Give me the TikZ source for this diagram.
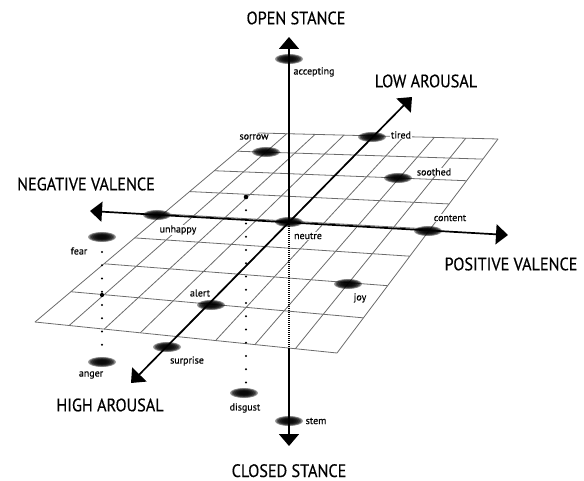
\documentclass[tikz,border=0pt]{standalone}
\usepackage{fontspec}
\setmainfont{PT Sans}
\newfontfamily\axisfont[FakeStretch=0.9,FakeBold=0.4]{PT Sans}
\newfontfamily\labelfont[FakeBold=0.3]{PT Sans}
\usetikzlibrary{arrows.meta}

% point (u,v) of the tilted plane, u,v in [0,1], perspective mapped
\newcommand{\gridpt}[2]{({(198.963*(#1)-232.801*(#2)+259)/(-0.080395*(#1)-0.251469*(#2)+1)},{(-5.175*(#1)+108.027*(#2)+133)/(-0.080395*(#1)-0.251469*(#2)+1)})}

\tikzset{
  gridline/.style={draw=black!58, line width=0.8pt},
  axisline/.style={line width=1.7pt, black},
  axtip/.style={-{Triangle[width=20pt,length=12pt]}},
  axtips/.style={{Triangle[width=20pt,length=12pt]}-{Triangle[width=20pt,length=12pt]}},
  lbl/.style={font=\labelfont\fontsize{10}{12}\selectfont, fill=white, inner sep=0.6pt},
  axlbl/.style={font=\axisfont\fontsize{18}{20}\selectfont, inner sep=0pt},
  dotline/.style={line width=2.2pt, line cap=round, dash pattern=on 0pt off 13.25pt},
  hidden/.style={line width=1.4pt, dash pattern=on 1pt off 1pt},
  pics/blob/.style={code={
    \foreach \rx/\ry in {14/5,12.5/4.4,11/3.8,9/3.2,7/2.6,5/2}{
      \fill[black, opacity=0.42] (0,0) ellipse [x radius=\rx, y radius=\ry];
    }
  }}
}

\begin{document}
\begin{tikzpicture}[x=1pt, y=-1pt]
\useasboundingbox (0,0) rectangle (584,481);

% the valence/arousal plane
\foreach \i in {0,...,8}{
  \draw[gridline] \gridpt{\i/8}{0} -- \gridpt{\i/8}{1};
  \draw[gridline] \gridpt{0}{\i/8} -- \gridpt{1}{\i/8};
}

% emotion positions
\coordinate (accepting) at (289,59);
\coordinate (sorrow)    at (266,152);
\coordinate (tired)     at (372,137);
\coordinate (soothed)   at (398,178);
\coordinate (content)   at (428,231);
\coordinate (joy)       at (348,284);
\coordinate (neutre)    at (289,222);
\coordinate (unhappy)   at (157,215);
\coordinate (fear)      at (102,237);
\coordinate (alert)     at (211,305);
\coordinate (surprise)  at (167,347);
\coordinate (anger)     at (102,362);
\coordinate (disgust)   at (244,393);
\coordinate (stem)      at (289,421);

% labels of the emotions
\node[lbl] (l-accepting) at (314,72)  {accepting};
\node[lbl] (l-sorrow)    at (254,137) {sorrow};
\node[lbl] (l-tired)     at (401,135) {tired};
\node[lbl] (l-soothed)   at (434,172) {soothed};
\node[lbl] (l-content)   at (450,218) {content};
\node[lbl] (l-joy)       at (360,298) {joy};
\node[lbl] (l-neutre)    at (308,236) {neutre};
\node[lbl] (l-unhappy)   at (178,230) {unhappy};
\node[lbl] (l-fear)      at (79,251)  {fear};
\node[lbl] (l-alert)     at (200,293) {alert};
\node[lbl] (l-surprise)  at (187,361) {surprise};
\node[lbl] (l-anger)     at (91,375)  {anger};
\node[lbl] (l-disgust)   at (245,408) {disgust};
\node[lbl] (l-stem)      at (316,421) {stem};

% projection lines
\coordinate (fearA) at (102,252);
\coordinate (fearB) at (102,358);
\coordinate (fearP) at (102,295);
\coordinate (disA)  at (246,197);
\coordinate (disB)  at (246,384);
\draw[dotline] (fearA) -- (fearB);
\draw[dotline] (disA) -- (disB);
\fill (fearP) circle (2.1);
\fill (disA) circle (2.3);

% axes
\coordinate (openT)  at (289,37);
\coordinate (closeT) at (289,446);
\coordinate (exitP)  at (289,348);
\coordinate (negT)   at (90,211);
\coordinate (posT)   at (508,235);
\coordinate (highT)  at (131,383);
\coordinate (lowT)   at (412,97);

\draw[axisline, hidden] (neutre) -- (exitP);
\draw[axisline, axtip] (neutre) -- (openT);
\draw[axisline, axtip] (exitP) -- (closeT);
\draw[axisline, axtips] (negT) -- (posT);
\draw[axisline, axtips] (highT) -- (lowT);

% axis titles
\node[axlbl] (t-open)  at (296,18)  {OPEN STANCE};
\node[axlbl, anchor=base] (t-close) at (289,477) {CLOSED STANCE};
\node[axlbl] (t-neg)   at (86,184)  {NEGATIVE VALENCE};
\node[axlbl] (t-pos)   at (511,264) {POSITIVE VALENCE};
\node[axlbl] (t-low)   at (426,81)  {LOW AROUSAL};
\node[axlbl] (t-high)  at (110,405) {HIGH AROUSAL};

% emotion markers
\foreach \e in {accepting,sorrow,tired,soothed,content,joy,neutre,unhappy,fear,alert,surprise,anger,disgust,stem}{
  \pic at (\e) {blob};
}
\end{tikzpicture}
\end{document}
